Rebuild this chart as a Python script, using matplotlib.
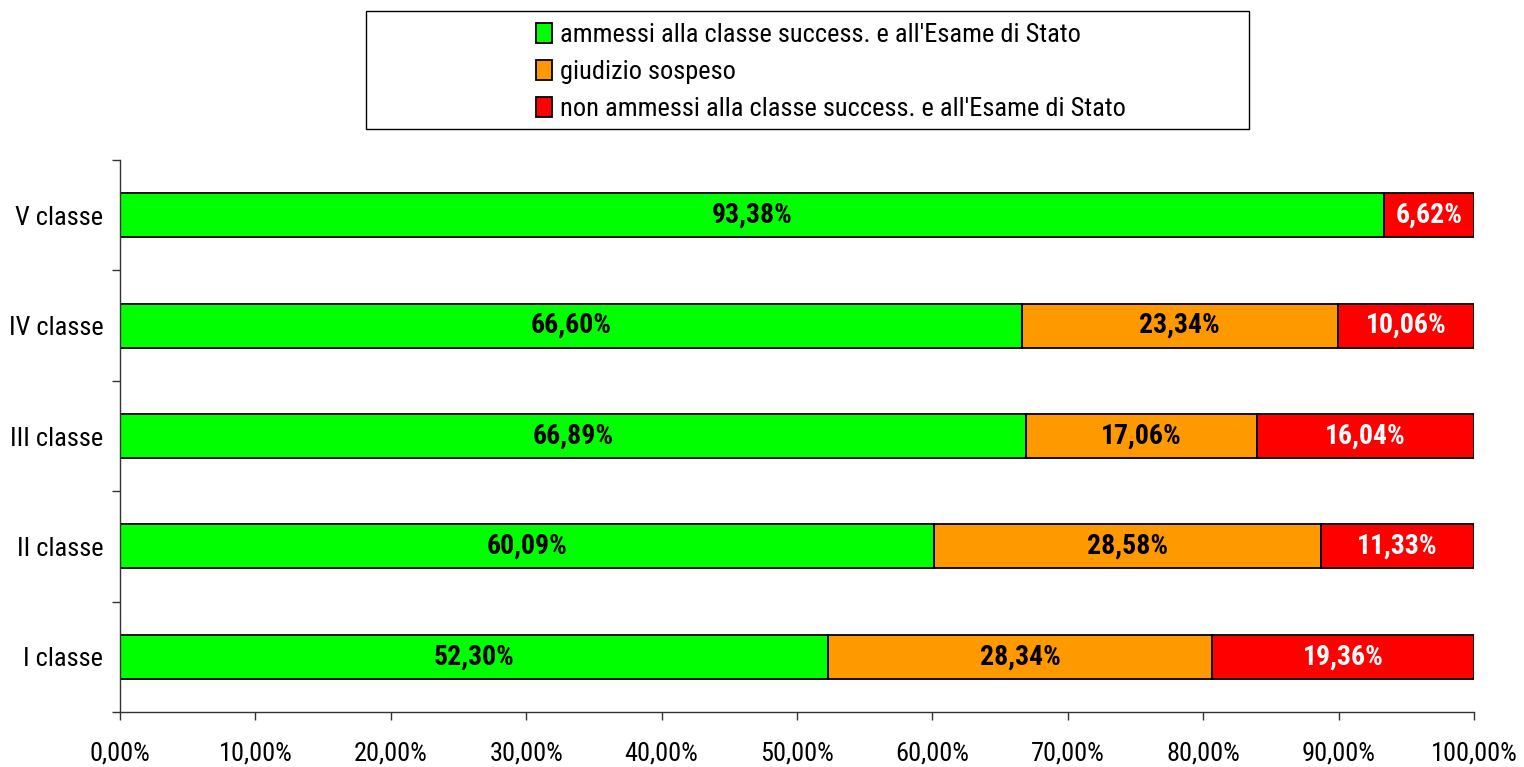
import matplotlib
matplotlib.use("Agg")
import matplotlib.pyplot as plt
from matplotlib import font_manager
from matplotlib.patches import Rectangle
import numpy as np

# font stretta se presente, altrimenti Liberation Sans ridotto
nomi_font = {f.name for f in font_manager.fontManager.ttflist}
stretti = [n for n in ["Liberation Sans Narrow", "Arial Narrow", "Roboto Condensed",
                       "Open Sans Condensed", "Noto Sans Condensed"] if n in nomi_font]
if stretti:
    plt.rcParams['font.family'] = [stretti[0], 'DejaVu Sans']
    fs = 19
else:
    plt.rcParams['font.family'] = ['Liberation Sans', 'DejaVu Sans']
    fs = 16

# dati
classi = ["I classe", "II classe", "III classe", "IV classe", "V classe"]
ammessi = [52.30, 60.09, 66.89, 66.60, 93.38]
sospeso = [28.34, 28.58, 17.06, 23.34, 0.0]
non_ammessi = [19.36, 11.33, 16.04, 10.06, 6.62]
serie_nomi = ["ammessi alla classe success. e all'Esame di Stato",
              "giudizio sospeso",
              "non ammessi alla classe success. e all'Esame di Stato"]
colori = ["#00FF00", "#FF9900", "#FF0000"]
colori_testo = ["black", "black", "white"]
xtick_vals = [0, 10, 20, 30, 40, 50, 60, 70, 80, 90, 100]

fig = plt.figure(figsize=(15.24, 7.67), dpi=100)
ax = fig.add_axes([120/1524, 1-712/767, 1354/1524, 552/767])

y = np.arange(len(classi))
left = np.zeros(len(classi))
handles = []
for vals, nome, col, tcol in zip([ammessi, sospeso, non_ammessi], serie_nomi, colori, colori_testo):
    vals = np.array(vals)
    bars = ax.barh(y, vals, left=left, height=0.4, color=col,
                   edgecolor="black", linewidth=1.3, label=nome)
    handles.append(bars)
    for yi, l, v in zip(y, left, vals):
        if v > 0:
            ax.text(l + v / 2, yi, f"{v:.2f}%".replace(".", ","), ha="center", va="center",
                    fontsize=fs + 1, fontweight="bold", color=tcol)
    left = left + vals

ax.set_xlim(0, 100)
ax.set_ylim(-0.5, len(classi) - 0.5)
ax.set_xticks(xtick_vals)
ax.set_xticklabels([f"{v:.2f}%".replace(".", ",") for v in xtick_vals], fontsize=fs)
ax.set_yticks(y)
ax.set_yticklabels(classi, fontsize=fs)
ax.set_yticks(np.arange(-0.5, len(classi)), minor=True)
ax.tick_params(axis="y", which="major", length=0, pad=12)
ax.tick_params(axis="y", which="minor", length=6, width=1, color="#333333")
ax.tick_params(axis="x", length=6, width=1, color="#333333", pad=15)
for s in ["top", "right"]:
    ax.spines[s].set_visible(False)
for s in ["left", "bottom"]:
    ax.spines[s].set_color("#333333")
    ax.spines[s].set_linewidth(1)

# riquadro legenda
fig.patches.append(Rectangle((366/1524, 1-129/767), 883/1524, 118/767,
                             transform=fig.transFigure, fill=False,
                             edgecolor="black", linewidth=1))
fig.legend(handles=handles, labels=serie_nomi, loc="upper left",
           bbox_to_anchor=(523/1524, 1-10/767), frameon=False, fontsize=fs,
           handlelength=0.6, handleheight=0.8, handletextpad=0.3,
           labelspacing=0.48, borderpad=0)

fig.savefig("out.png", dpi=100)
